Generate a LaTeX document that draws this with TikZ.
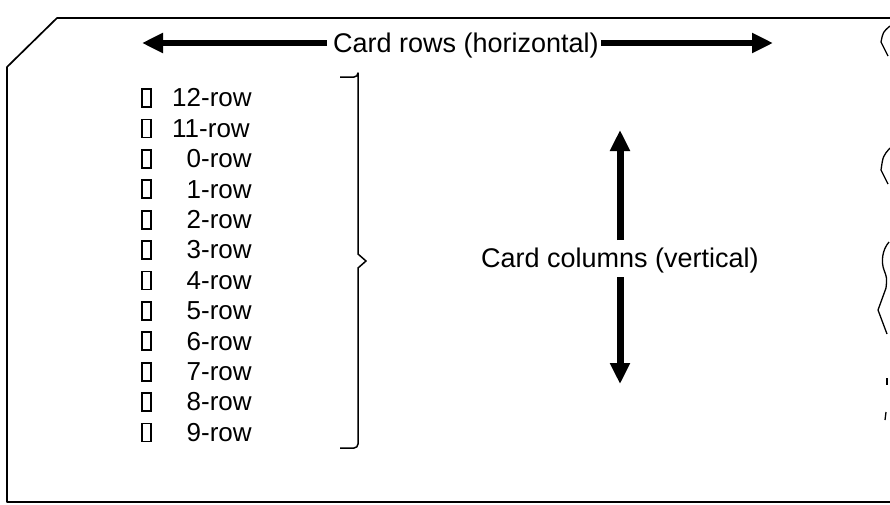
\documentclass[tikz,border=0pt]{standalone}
\usepackage{fontspec}
\setmainfont{Liberation Sans}
\usetikzlibrary{arrows.meta}
\begin{document}
\begin{tikzpicture}[x=1pt,y=-1pt,
  outline/.style={line width=1.7pt, line join=round},
  brk/.style={line width=1.3pt, line join=round},
  bigarrowh/.style={line width=6pt, -{Triangle[length=21pt,width=19pt]}},
  bigarrowv/.style={line width=7pt, -{Triangle[length=21pt,width=19pt]}},
  hole/.style={draw, line width=1.8pt, minimum width=9pt, minimum height=18pt, inner sep=0pt},
  rowlabel/.style={anchor=west, inner sep=0pt, font=\fontsize{26}{28}\selectfont},
  heading/.style={anchor=base, inner sep=0pt, font=\fontsize{27}{29}\selectfont},
  bracket/.style={line width=1.5pt, line join=round}]
\useasboundingbox (0,0) rectangle (890,504);
% card outline
\draw[outline] (890,18) -- (57,18) -- (7,67) -- (7,502) -- (890,502);
% torn right edge
\draw[brk] (890,26) .. controls (883,32) .. (881,42) -- (888,56);
\draw[brk] (890,148) .. controls (883,156) .. (881,170) -- (888,184);
\draw[brk] (889,242) .. controls (882,250) and (881,262) .. (884,270) .. controls (887,278) .. (886,288) -- (878,310) -- (887,334);
\draw[brk] (887,378) -- (887,385);
\draw[brk] (886,412) -- (885,420);
% horizontal heading and arrows
\node[heading] (rows) at (466,52.7) {Card rows (horizontal)};
\coordinate (hls) at (327,43);
\coordinate (hlt) at (142,43);
\coordinate (hrs) at (601,43);
\coordinate (hrt) at (773,43);
\draw[bigarrowh] (hls) -- (hlt);
\draw[bigarrowh] (hrs) -- (hrt);
% vertical heading and arrows
\node[heading] (cols) at (620,267.5) {Card columns (vertical)};
\coordinate (vus) at (620,240);
\coordinate (vut) at (620,130);
\coordinate (vds) at (620,277);
\coordinate (vdt) at (620,384);
\draw[bigarrowv] (vus) -- (vut);
\draw[bigarrowv] (vds) -- (vdt);
% row list
\foreach \lab [count=\i from 0] in {12,11,\phantom{1}0,\phantom{1}1,\phantom{1}2,\phantom{1}3,\phantom{1}4,\phantom{1}5,\phantom{1}6,\phantom{1}7,\phantom{1}8,\phantom{1}9}{
  \pgfmathsetmacro{\yy}{98+30.4*\i}
  \node[hole] (hole\i) at (146.5,\yy) {};
  \node[rowlabel] (row\i) at (172,\yy) {\lab-row};
}
% bracket
\draw[bracket] (340,77) -- (354,77) arc[start angle=90, end angle=0, radius=4] -- (358,254) -- (366,261) -- (358,268) -- (358,444) arc[start angle=0, end angle=90, radius=4] -- (340,448);
\end{tikzpicture}
\end{document}
